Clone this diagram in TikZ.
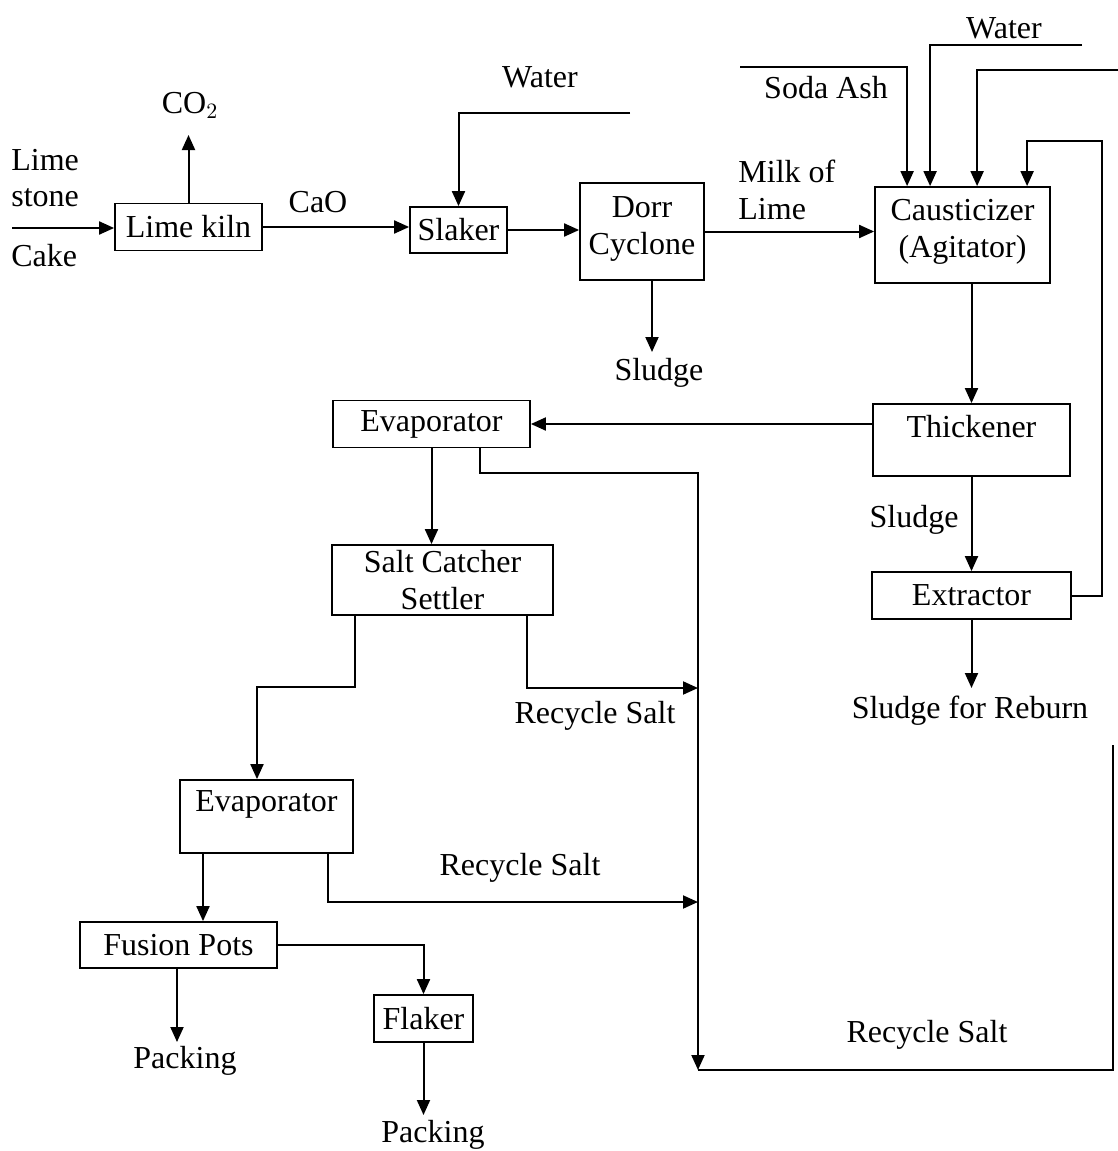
\documentclass[tikz,border=0pt]{standalone}
\usepackage{fontspec}
\setmainfont{Liberation Serif}
\usetikzlibrary{arrows.meta,calc}

\begin{document}
\begin{tikzpicture}[
  x=0.5pt, y=-0.5pt,
  box/.style={draw, line width=0.9pt, inner sep=0pt, align=center, font=\fontsize{16}{18.5}\selectfont},
  lbl/.style={inner sep=0pt, align=left, font=\fontsize{16}{18.5}\selectfont},
  flow/.style={-{Triangle[length=7.5pt,width=6.5pt]}, line width=1pt},
  pipe/.style={line width=1pt}
]
\useasboundingbox (0,0) rectangle (1118,1151);
% Boxes
\node[box, minimum width=73.5pt, minimum height=23.5pt] (kiln) at (188.5,227) {Lime kiln};
\node[box, minimum width=48.5pt, minimum height=23pt] (slaker) at (458.5,230) {Slaker};
\node[box, minimum width=62pt, minimum height=48.5pt, text depth=6pt] (dorr) at (642,231.5) {Dorr\\Cyclone};
\node[box, minimum width=87.5pt, minimum height=48pt, text depth=7pt] (caust) at (962.5,235) {Causticizer\\(Agitator)};
\node[box, minimum width=98.5pt, minimum height=36pt, text depth=14pt] (thick) at (971.5,440) {Thickener};
\node[box, minimum width=98.5pt, minimum height=23.5pt] (evapA) at (431.5,424) {Evaporator};
\node[box, minimum width=99.5pt, minimum height=23.5pt] (extr) at (971.5,595.5) {Extractor};
\node[box, minimum width=110.5pt, minimum height=35pt] (settler) at (442.5,580) {Salt Catcher\\Settler};
\node[box, minimum width=86.5pt, minimum height=36.5pt, text depth=15pt] (evapB) at (266.5,816.5) {Evaporator};
\node[box, minimum width=98.5pt, minimum height=23pt] (fusion) at (178.5,945) {Fusion Pots};
\node[box, minimum width=49.5pt, minimum height=23.5pt] (flaker) at (423.5,1018.5) {Flaker};
% Labels
\node[lbl, anchor=west] (lime) at (11,160) {Lime};
\node[lbl, anchor=west] (stone) at (11,198) {stone};
\node[lbl, anchor=west] (cake) at (11,256) {Cake};
\node[lbl] (co2) at (190,105) {CO$_2$};
\node[lbl] (cao) at (318,202) {CaO};
\node[lbl] (waterA) at (540,77) {Water};
\node[lbl] (sludgeA) at (659,373) {Sludge};
\node[lbl, anchor=west] (milk) at (738,190) {Milk of\\Lime};
\node[lbl] (soda) at (826,88) {Soda Ash};
\node[lbl] (waterB) at (1004,28) {Water};
\node[lbl] (sludgeB) at (914,520) {Sludge};
\node[lbl] (reburn) at (970,711) {Sludge for Reburn};
\node[lbl] (recA) at (595,716) {Recycle Salt};
\node[lbl] (recB) at (520,868) {Recycle Salt};
\node[lbl] (recC) at (927,1035) {Recycle Salt};
\node[lbl] (packA) at (185,1061) {Packing};
\node[lbl] (packB) at (433,1135) {Packing};
% Free ends and port positions
\coordinate (feedIn) at (12,228);
\coordinate (co2Out) at (189,135);
\coordinate (waterAIn) at (630,113);
\coordinate (sludgeAOut) at (652,352);
\coordinate (sodaIn) at (740,67);
\coordinate (waterBIn) at (1082,45);
\coordinate (saltIn) at (1118,70);
\coordinate (retTop) at (1102,141);
\coordinate (reburnOut) at (968,688);
\coordinate (rcTop) at (698,473);
\coordinate (rcA) at (698,688);
\coordinate (rcB) at (698,902);
\coordinate (rcBot) at (698,1070);
\coordinate (rcEnd) at (1113,745);
\coordinate (packAOut) at (177,1042);
\coordinate (packBOut) at (424,1115);
\coordinate (pEvapA) at (480,0);
\coordinate (pSetL) at (355,0);
\coordinate (pSetR) at (527,0);
\coordinate (pEvB) at (257,0);
\coordinate (pEvBL) at (203,0);
\coordinate (pEvBR) at (328,0);
% Connectors
\draw[flow] (feedIn) -- (feedIn -| kiln.west);
\draw[flow] (kiln.north) -- (kiln.north |- co2Out);
\draw[flow] (kiln.east) -- (kiln.east -| slaker.west);
\draw[flow] (waterAIn) -| (slaker.north);
\draw[flow] (slaker.east) -- (slaker.east -| dorr.west);
\draw[flow] (sludgeAOut |- dorr.south) -- (sludgeAOut);
\draw[flow] (dorr.east) -- (dorr.east -| caust.west);
\draw[flow] (sodaIn) -| ($(caust.north west)+(33,0)$);
\draw[flow] (waterBIn) -| ($(caust.north west)+(56,0)$);
\draw[flow] (saltIn) -| ($(caust.north west)+(103,0)$);
\draw[flow] (extr.east) -| (retTop) -| ($(caust.north west)+(153,0)$);
\draw[flow] (thick.north |- caust.south) -- (thick.north);
\draw[flow] (thick.west |- evapA.east) -- (evapA.east);
\draw[flow] (evapA.south) -- (evapA.south |- settler.north);
\draw[flow] (evapA.south -| pEvapA) |- (rcTop) -- (rcBot);
\draw[pipe] (rcBot) -| (rcEnd);
\draw[flow] (thick.south) -- (thick.south |- extr.north);
\draw[flow] (extr.south) -- (extr.south |- reburnOut);
\draw[flow] (settler.south -| pSetL) -- ++(0,71) -| (evapB.north -| pEvB);
\draw[flow] (settler.south -| pSetR) |- (rcA);
\draw[flow] (evapB.south -| pEvBL) -- (fusion.north -| pEvBL);
\draw[flow] (evapB.south -| pEvBR) |- (rcB);
\draw[flow] (fusion.south -| packAOut) -- (packAOut);
\draw[flow] (fusion.east) -| (flaker.north);
\draw[flow] (flaker.south) -- (flaker.south |- packBOut);
\end{tikzpicture}
\end{document}
